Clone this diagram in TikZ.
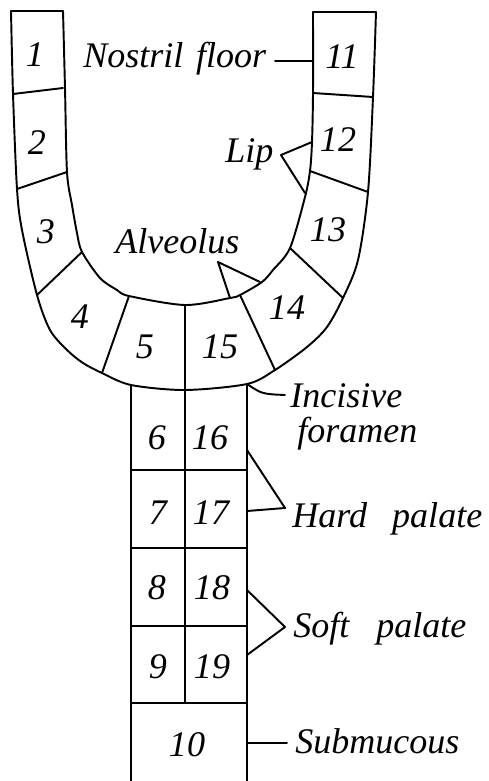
\documentclass[tikz,border=0pt]{standalone}
\usepackage{fontspec}
\setmainfont{Liberation Serif}
\tikzset{
  lbl/.style={font=\fontsize{20.5pt}{24pt}\selectfont\itshape, inner sep=0pt},
  num/.style={lbl, anchor=center},
  txt/.style={lbl, anchor=base west},
  ln/.style={line width=1.1pt, line join=round, line cap=round},
}
\begin{document}
\begin{tikzpicture}[x=0.02cm, y=-0.02cm]
\useasboundingbox (0,0) rectangle (489,781);
% key points
\coordinate (oTL) at (11,11);  \coordinate (iTL) at (63,11);
\coordinate (iTR) at (313,12); \coordinate (oTR) at (376,12);
\coordinate (cL) at (131,385); \coordinate (cR) at (247,384);
\coordinate (cTop) at (185,305); \coordinate (cMid) at (185,703);
\coordinate (cLB) at (131,781); \coordinate (cRB) at (247,781);
% outer boundary
\draw[ln] plot[smooth, tension=0.5] coordinates {(11,11) (13,94) (17,189) (22,230) (37,295) (50,330) (67,350) (83,363) (102,373) (131,385) (185,390) (247,384) (275,370) (307,347) (327,327) (343,298) (358,260) (368,192) (373,97) (376,12)};
% inner boundary
\draw[ln] plot[smooth, tension=0.5] coordinates {(63,11) (65,88) (67,172) (72,205) (77,233) (82,252) (100,278) (117,290) (129,296) (185,305) (230,298) (240,295) (262,282) (273,270) (290,248) (305,197) (310,171) (312,142) (313,93) (313,12)};
% tops
\draw[ln] (oTL) -- (iTL);
\draw[ln] (iTR) -- (oTR);
% dividers in the U
\draw[ln] (13,94) -- (63,88);
\draw[ln] (17,189) -- (67,172);
\draw[ln] (37,295) -- (82,252);
\draw[ln] (102,373) -- (129,296);
\draw[ln] (240,295) -- (275,370);
\draw[ln] (290,248) -- (343,298);
\draw[ln] (310,171) -- (368,192);
\draw[ln] (313,93) -- (373,97);
% column
\draw[ln] (cL) -- (cLB);
\draw[ln] (cR) -- (cRB);
\draw[ln] (cTop) -- (cMid);
\foreach \y in {470,548,626,703} \draw[ln] (131,\y) -- (247,\y);
% numbers
\node[num] (n1) at (35,55) {1};
\node[num] (n2) at (37,143) {2};
\node[num] (n3) at (46,232) {3};
\node[num] (n4) at (80,317) {4};
\node[num] (n5) at (145,347) {5};
\node[num] (n15) at (220,347) {15};
\node[num] (n14) at (287,308) {14};
\node[num] (n13) at (328,230) {13};
\node[num] (n12) at (338,140) {12};
\node[num] (n11) at (342,57) {11};
\node[num] (n6) at (157,438) {6};
\node[num] (n16) at (210,438) {16};
\node[num] (n7) at (158,513) {7};
\node[num] (n17) at (211,513) {17};
\node[num] (n8) at (157,588) {8};
\node[num] (n18) at (212,588) {18};
\node[num] (n9) at (158,667) {9};
\node[num] (n19) at (212,667) {19};
\node[num] (n10) at (187,745) {10};
% labels
\node[txt] (nf) at (83,67) {Nostril\hspace{0.35em}floor};
\node[txt] (lip) at (225,162) {Lip};
\node[txt] (alv) at (115,253) {Alveolus};
\node[txt] (inc) at (290,407) {Incisive};
\node[txt] (for) at (297,442) {foramen};
\node[txt] (hard) at (292,527) {Hard\hspace{0.7em}palate};
\node[txt] (soft) at (293,637) {Soft\hspace{0.75em}palate};
\node[txt] (sub) at (295,753) {Submucous};
% pointers
\coordinate (nfA) at (275,61); \coordinate (nfB) at (313,61);
\draw[ln] (nfA) -- (nfB);
\coordinate (lipA) at (312,142); \coordinate (lipP) at (281,155); \coordinate (lipB) at (305,193);
\draw[ln] (lipA) -- (lipP) -- (lipB);
\coordinate (alvA) at (260,282); \coordinate (alvP) at (218,262); \coordinate (alvB) at (230,298);
\draw[ln] (alvA) -- (alvP) -- (alvB);
\coordinate (incP) at (285,395);
\draw[ln] (cR) .. controls (262,394) .. (incP);
\coordinate (hardA) at (247,450); \coordinate (hardP) at (285,508); \coordinate (hardB) at (247,511);
\draw[ln] (hardA) -- (hardP) -- (hardB);
\coordinate (softA) at (247,590); \coordinate (softP) at (285,627); \coordinate (softB) at (247,655);
\draw[ln] (softA) -- (softP) -- (softB);
\coordinate (subA) at (247,743); \coordinate (subB) at (287,743);
\draw[ln] (subA) -- (subB);
\end{tikzpicture}
\end{document}
